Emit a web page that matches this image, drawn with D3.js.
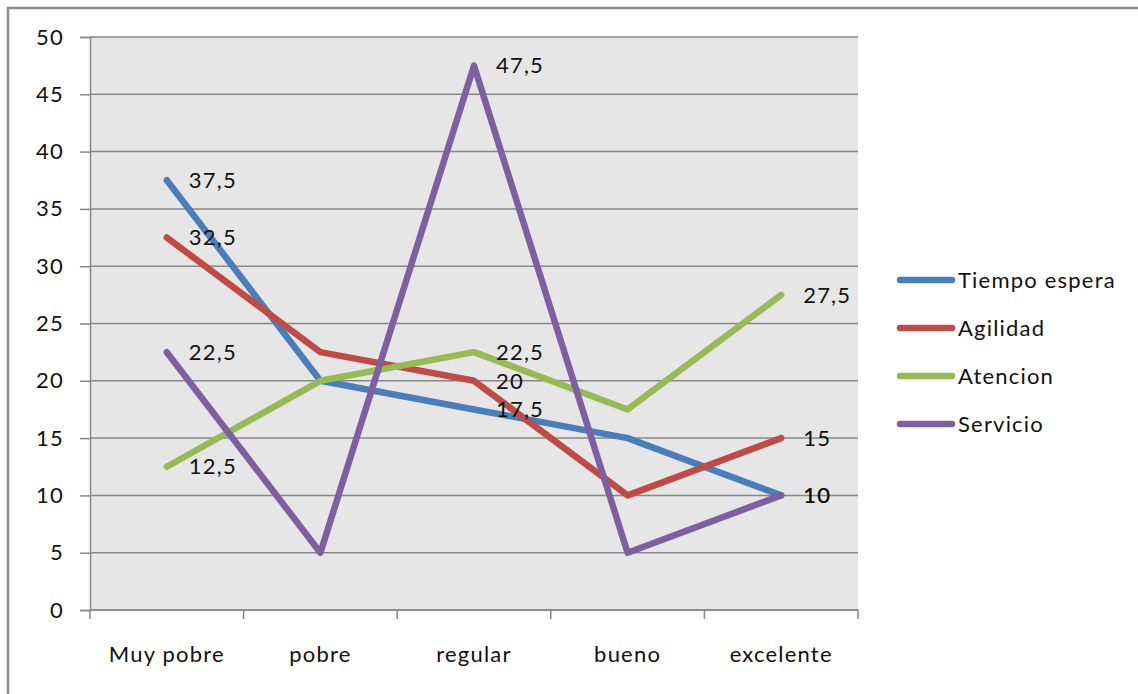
<!DOCTYPE html>
<html>
<head>
<meta charset="utf-8">
<script src="https://cdn.jsdelivr.net/npm/d3@7"></script>
<style>
  html, body { margin: 0; padding: 0; background: #fff; }
  svg { display: block; font-family: Lato, "Open Sans", sans-serif; }
  svg text { letter-spacing: 1.2px; }
</style>
</head>
<body>
<svg id="chart" width="1138" height="694"></svg>
<script>
// Ratings per category for each aspect of service
const categories = ["Muy pobre", "pobre", "regular", "bueno", "excelente"];
const seriesNames = ["Tiempo espera", "Agilidad", "Atencion", "Servicio"];
const tiempoEspera = [37.5, 20, 17.5, 15, 10];
const agilidad = [32.5, 22.5, 20, 10, 15];
const atencion = [12.5, 20, 22.5, 17.5, 27.5];
const servicio = [22.5, 5, 47.5, 5, 10];
const yTicks = [0, 5, 10, 15, 20, 25, 30, 35, 40, 45, 50];
// categories whose points carry a value label
const labelledCategories = ["Muy pobre", "regular", "excelente"];

const colors = ["#4a7ebb", "#be4b48", "#98b954", "#7d60a0"];
const seriesValues = [tiempoEspera, agilidad, atencion, servicio];
const series = seriesNames.map((name, i) => ({ name, values: seriesValues[i], color: colors[i] }));

const svg = d3.select("#chart");
const plot = { left: 90, right: 858, top: 37, bottom: 610 };
const fontSize = 22;

// outer frame (top and left edges)
svg.append("path")
  .attr("d", "M8,1000 L8,8 L1200,8")
  .attr("fill", "none").attr("stroke", "#8c8c8c").attr("stroke-width", 2.5);

const x = d3.scaleBand().domain(categories).range([plot.left, plot.right]);
const y = d3.scaleLinear().domain([0, 50]).range([plot.bottom, plot.top]);

svg.append("rect")
  .attr("x", plot.left).attr("y", plot.top)
  .attr("width", plot.right - plot.left).attr("height", plot.bottom - plot.top)
  .attr("fill", "#e6e6e6");

// horizontal gridlines
svg.append("g").selectAll("line").data(yTicks).join("line")
  .attr("x1", plot.left).attr("x2", plot.right)
  .attr("y1", d => y(d)).attr("y2", d => y(d))
  .attr("stroke", "#878787").attr("stroke-width", 1.5);

// y axis
const yAxis = svg.append("g")
  .attr("transform", `translate(${plot.left},0)`)
  .call(d3.axisLeft(y).tickValues(yTicks).tickSize(10).tickPadding(16).tickFormat(d3.format("d")));
yAxis.select(".domain").attr("stroke", "#878787").attr("stroke-width", 1.5);
yAxis.selectAll(".tick line").attr("stroke", "#878787").attr("stroke-width", 1.5);
yAxis.selectAll("text").attr("font-size", fontSize).attr("fill", "#111").attr("font-family", "Lato, sans-serif");

// x axis with ticks at category boundaries
const xAxis = svg.append("g").attr("transform", `translate(0,${plot.bottom})`);
xAxis.append("line")
  .attr("x1", plot.left).attr("x2", plot.right)
  .attr("stroke", "#878787").attr("stroke-width", 1.5);
const boundaries = categories.map(c => x(c)).concat([x(categories[categories.length - 1]) + x.bandwidth()]);
xAxis.selectAll("line.tick").data(boundaries).join("line")
  .attr("class", "tick")
  .attr("x1", d => d).attr("x2", d => d)
  .attr("y1", 0).attr("y2", 9)
  .attr("stroke", "#878787").attr("stroke-width", 1.5);
xAxis.selectAll("text").data(categories).join("text")
  .attr("x", d => x(d) + x.bandwidth() / 2)
  .attr("y", 52)
  .attr("text-anchor", "middle")
  .attr("font-size", fontSize).attr("fill", "#111")
  .text(d => d);

const cx = c => x(c) + x.bandwidth() / 2;
const line = d3.line().x((d, i) => cx(categories[i])).y(d => y(d));

svg.append("g").selectAll("path").data(series).join("path")
  .attr("d", d => line(d.values))
  .attr("fill", "none")
  .attr("stroke", d => d.color)
  .attr("stroke-width", 6.5)
  .attr("stroke-linejoin", "round")
  .attr("stroke-linecap", "round");

// value labels
const fmt = v => String(v).replace(".", ",");
const labels = [];
series.forEach(s => s.values.forEach((v, i) => {
  if (labelledCategories.includes(categories[i])) labels.push({ c: categories[i], v });
}));
svg.append("g").selectAll("text").data(labels).join("text")
  .attr("x", d => cx(d.c) + 22)
  .attr("y", d => y(d.v))
  .attr("dy", "0.35em")
  .attr("font-size", fontSize).attr("fill", "#111")
  .text(d => fmt(d.v));

// legend
const legend = svg.append("g").selectAll("g").data(series).join("g")
  .attr("transform", (d, i) => `translate(900,${280 + i * 48})`);
legend.append("line")
  .attr("x1", 0).attr("x2", 52)
  .attr("stroke", d => d.color).attr("stroke-width", 6.5).attr("stroke-linecap", "round");
legend.append("text")
  .attr("x", 58).attr("dy", "0.35em")
  .attr("font-size", fontSize).attr("fill", "#111")
  .text(d => d.name);
</script>
</body>
</html>
